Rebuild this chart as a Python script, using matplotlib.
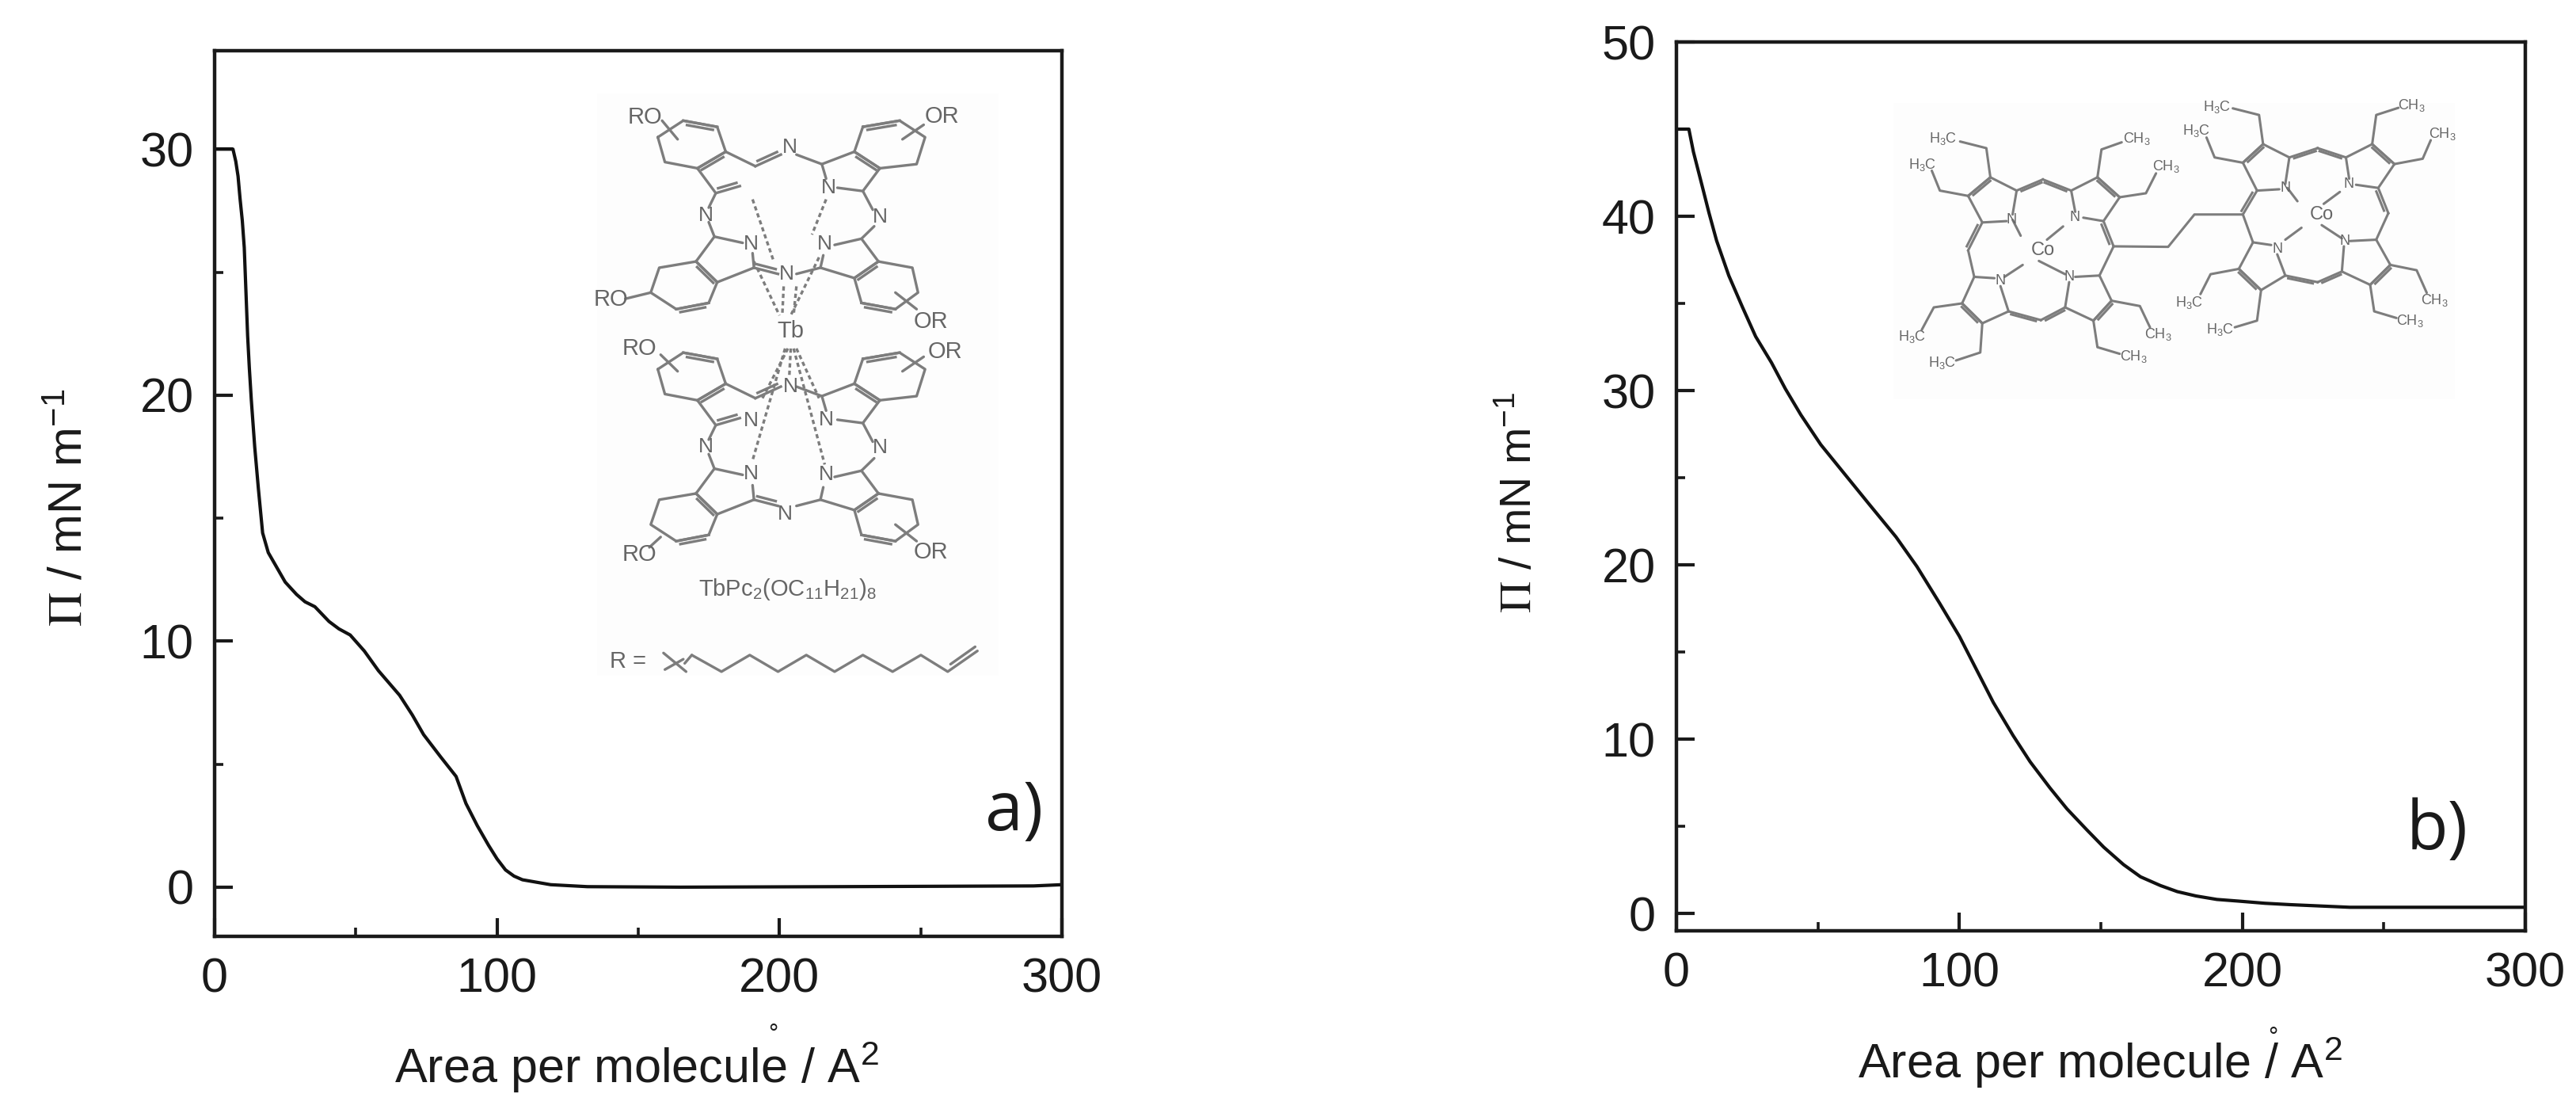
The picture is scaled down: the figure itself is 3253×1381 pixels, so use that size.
import matplotlib
matplotlib.use("Agg")
import matplotlib.pyplot as plt
from matplotlib.ticker import MultipleLocator

W, H = 3253, 1381

plt.rcParams['font.family'] = ['Liberation Sans', 'DejaVu Sans']
plt.rcParams['mathtext.fontset'] = 'stix'
plt.rcParams['mathtext.default'] = 'regular'

# isotherm a)
area_a = [0, 6.5, 7.5, 8.3, 9, 9.8, 10.5, 11.1, 11.7, 12.3, 13, 14.2, 15.5, 17, 19, 22, 25, 29, 32, 35.5,
          40.5, 44, 48, 53, 58, 65.5, 70, 74, 80, 85.5, 89, 93, 97, 100, 103, 106, 109, 119, 132, 165, 220, 290, 300]
pressure_a = [30, 30, 29.5, 28.9, 28, 27.1, 26, 24.2, 22.4, 21.1, 19.8, 17.9, 16.2, 14.4, 13.6, 13, 12.4, 11.9,
              11.6, 11.4, 10.8, 10.5, 10.25, 9.6, 8.8, 7.8, 7, 6.2, 5.3, 4.5, 3.4, 2.5, 1.7, 1.15, 0.7, 0.45, 0.3,
              0.1, 0.02, 0, 0.02, 0.05, 0.1]

# isotherm b)
area_b = [0, 4.4, 6, 9, 11.5, 14.2, 18.5, 23.3, 28, 33.6, 38.5, 44, 51, 59.5, 68, 77.6, 85, 93, 100, 106, 112,
          119, 125, 132, 138, 145, 151, 158, 164, 171, 177, 183.6, 191, 199, 208, 217, 238, 300]
pressure_b = [45, 45, 43.7, 41.8, 40.2, 38.6, 36.6, 34.8, 33.1, 31.6, 30.1, 28.6, 26.9, 25.2, 23.5, 21.6, 19.9,
              17.8, 15.9, 14, 12.1, 10.2, 8.7, 7.2, 6, 4.8, 3.8, 2.8, 2.1, 1.6, 1.25, 1.0, 0.8, 0.7, 0.58, 0.5,
              0.35, 0.35]

x_ticks = [0, 100, 200, 300]
y_ticks_a = [0, 10, 20, 30]
y_ticks_b = [0, 10, 20, 30, 40, 50]


def px_axes(x0, y0, x1, y1):
    # axes rectangle from picture pixels (y down)
    return [x0 / W, 1 - y1 / H, (x1 - x0) / W, (y1 - y0) / H]


def put(x, y, s, **kw):
    kw.setdefault('ha', 'center')
    kw.setdefault('va', 'center')
    return fig.text(x / W, 1 - y / H, s, **kw)


fig = plt.figure(figsize=(W / 100, H / 100), dpi=100)
INK = '#1a1a1a'


def isotherm(rect, xs, ys, yticks, ylim):
    ax = fig.add_axes(px_axes(*rect))
    ax.plot(xs, ys, color='#111111', lw=3.0, solid_joinstyle='round')
    ax.set_xlim(0, 300)
    ax.set_ylim(*ylim)
    ax.set_xticks(x_ticks)
    ax.set_yticks(yticks)
    ax.xaxis.set_minor_locator(MultipleLocator(50))
    ax.yaxis.set_minor_locator(MultipleLocator(5))
    ax.tick_params(which='major', direction='in', length=16.5, width=3, labelsize=44, pad=19, color=INK, labelcolor=INK)
    ax.tick_params(which='minor', direction='in', length=8, width=2.6, color=INK)
    for s in ax.spines.values():
        s.set_linewidth(3.2)
        s.set_color(INK)
    return ax


ax_a = isotherm((271, 64, 1341, 1182), area_a, pressure_a, y_ticks_a, (-2, 34))
ax_b = isotherm((2117, 53, 3189, 1175), area_b, pressure_b, y_ticks_b, (-1, 50))

xlabel = 'Area per molecule / A$^{2}$'
ylabel = r'$\mathrm{\Pi}$ / mN m$^{-1}$'
put(804, 1367, xlabel, fontsize=44, color=INK, va='baseline')
put(2652, 1361, xlabel, fontsize=44, color=INK, va='baseline')
put(104, 641, ylabel, fontsize=43, rotation=90, color=INK, va='baseline', rotation_mode='anchor')
put(1934, 634, ylabel, fontsize=40, rotation=90, color=INK, va='baseline', rotation_mode='anchor')
put(976, 1306, '°', fontsize=22, color=INK)
put(2870, 1310, '°', fontsize=22, color=INK)
put(1281, 1026, 'a)', fontsize=62, family='Open Sans', color=INK)
put(3078, 1050, 'b)', fontsize=62, family='Open Sans', color=INK)

GREY = '#7d7d7d'


def sketch_axes(x, y, w, h, ymax):
    ax = fig.add_axes(px_axes(x, y, x + w, y + h), zorder=5)
    ax.set_xlim(0, 1568)
    ax.set_ylim(ymax, 0)
    ax.axis('off')
    return ax


def lines(ax, paths, lw=2.4, **kw):
    for p in paths:
        ax.plot([q[0] for q in p], [q[1] for q in p], color=GREY, lw=lw, solid_capstyle='round', **kw)


def double(ax, segs, off=12, lw=2.4):
    # second stroke beside the bond
    for (a, b, c, d) in segs:
        dx, dy = c - a, d - b
        n = (dx ** 2 + dy ** 2) ** 0.5
        ox, oy = -dy / n * off, dx / n * off
        ax.plot([a, c], [b, d], color=GREY, lw=lw)
        ax.plot([a + ox + dx * .12, c + ox - dx * .12], [b + oy + dy * .12, d + oy - dy * .12], color=GREY, lw=lw)


# TbPc2 inset
ins_a = sketch_axes(720, 100, 560, 820, 1568)
ins_a.fill([95, 1515, 1515, 95], [35, 35, 1440, 1440], color='#fdfdfd', lw=0)


def pc_unit(ax, d):
    paths = [
        [(310, 140), (400, 100), (520, 115), (550, 175), (450, 215), (335, 200), (310, 140)],
        [(1035, 115), (1165, 100), (1255, 140), (1225, 205), (1095, 215), (1005, 175), (1035, 115)],
        [(550, 175), (655, 210)], [(800, 182), (890, 205), (1005, 175)],
        [(450, 215), (515, 275)], [(1095, 215), (1035, 270), (945, 262)],
        [(515, 275), (490, 310)], [(1035, 270), (1070, 315)],
        [(490, 345), (510, 380), (610, 395)], [(1075, 355), (1030, 385), (935, 400)],
        [(510, 380), (445, 440)], [(1030, 385), (1090, 440)],
        [(445, 440), (520, 490), (490, 540), (375, 555), (285, 515), (315, 455), (445, 440)],
        [(1090, 440), (1005, 480), (1030, 540), (1150, 555), (1230, 515), (1210, 455), (1090, 440)],
        [(520, 490), (650, 455)], [(1005, 480), (885, 455), (800, 470)],
        [(650, 455), (645, 420)], [(885, 455), (895, 425)],
        [(890, 205), (905, 240)],
    ]
    lines(ax, [[(x, y + d) for x, y in p] for p in paths])
    double(ax, [(655, 210 + d, 745, 182 + d), (650, 455 + d, 735, 470 + d), (515, 275 + d, 600, 258 + d)], off=-10)
    double(ax, [(400, 100 + d, 520, 115 + d), (1035, 115 + d, 1165, 100 + d), (375, 555 + d, 490, 540 + d),
                (1030, 540 + d, 1150, 555 + d), (450, 215 + d, 550, 175 + d), (1005, 175 + d, 1095, 215 + d),
                (445, 440 + d, 520, 490 + d), (1005, 480 + d, 1090, 440 + d)], off=9)


pc_unit(ins_a, 0)
pc_unit(ins_a, 560)
lines(ins_a, [[(325, 100), (380, 145)], [(1250, 110), (1175, 145)], [(195, 530), (285, 515)],
              [(1150, 515), (1225, 555)], [(320, 665), (380, 705)], [(1250, 670), (1175, 705)],
              [(320, 1105), (280, 1130)], [(1150, 1075), (1225, 1115)]])
lines(ins_a, [[(645, 290), (720, 440)], [(905, 290), (855, 375)], [(650, 440), (740, 570)],
              [(755, 500), (750, 570)], [(880, 430), (780, 570)], [(800, 500), (790, 570)],
              [(770, 650), (680, 770)], [(800, 650), (880, 770)], [(760, 650), (645, 920)],
              [(790, 650), (900, 930)], [(780, 650), (775, 715)]], lw=2.4, ls=(0, (1.6, 1.2)))
lines(ins_a, [[(430, 1390), (535, 1430), (635, 1390), (735, 1430), (835, 1390), (935, 1430),
               (1035, 1390), (1140, 1430), (1240, 1390), (1335, 1430), (1440, 1380)],
              [(1345, 1412), (1432, 1370)], [(330, 1385), (410, 1430)], [(335, 1425), (400, 1400)],
              [(405, 1410), (430, 1390)]])

for x, y, s in [(265, 92, 'RO'), (1315, 90, 'OR'), (145, 532, 'RO'), (1275, 585, 'OR'),
                (245, 650, 'RO'), (1325, 658, 'OR'), (245, 1148, 'RO'), (1275, 1142, 'OR')]:
    ins_a.text(x, y, s, fontsize=21, color='#666666', ha='center', va='center')
for x, y in [(778, 165), (480, 328), (1095, 332), (640, 397), (900, 397), (765, 470),
             (780, 742), (640, 825), (905, 822), (480, 888), (1095, 890), (640, 952),
             (905, 955), (760, 1050), (915, 262)]:
    ins_a.text(x, y, 'N', fontsize=19, color='#666666', ha='center', va='center')
ins_a.text(780, 608, 'Tb', fontsize=21, color='#666666', ha='center', va='center')
ins_a.text(768, 1232, 'TbPc$_{2}$(OC$_{11}$H$_{21}$)$_{8}$', fontsize=21, color='#666666', ha='center', va='center')
ins_a.text(205, 1405, 'R =', fontsize=21, color='#666666', ha='center', va='center')

# cobalt porphyrin dimer inset
ins_b = sketch_axes(2340, 120, 800, 400, 1194)
ins_b.fill([100, 1490, 1490, 100], [30, 30, 1145, 1145], color='#fdfdfd', lw=0)
lines(ins_b, [
    [(285, 380), (340, 310), (405, 360), (395, 450)], [(380, 475), (320, 480), (285, 380)],
    [(340, 310), (330, 200), (265, 175)], [(285, 380), (215, 360), (195, 285)],
    [(540, 360), (605, 310), (660, 385), (620, 475), (570, 462)], [(540, 360), (550, 440)],
    [(605, 310), (615, 205), (665, 178)], [(660, 385), (725, 370), (750, 295)],
    [(645, 570), (610, 680), (550, 685)], [(645, 570), (780, 572), (845, 450), (965, 450)],
    [(535, 705), (525, 800), (595, 850), (640, 775), (610, 680)],
    [(640, 775), (710, 795), (735, 875)], [(595, 850), (605, 950), (660, 975)],
    [(385, 815), (365, 720)], [(350, 690), (300, 685), (270, 785), (320, 860), (385, 815)],
    [(270, 785), (200, 800), (170, 885)], [(320, 860), (315, 970), (255, 1000)],
    [(285, 585), (300, 685)], [(395, 470), (415, 530)], [(520, 495), (480, 545)],
    [(420, 640), (375, 685)], [(460, 625), (525, 675)],
    [(965, 255), (1015, 185), (1080, 235), (1070, 335)], [(1055, 355), (1000, 360), (965, 255)],
    [(1015, 185), (1005, 75), (940, 50)], [(965, 255), (895, 235), (875, 160)],
    [(1220, 235), (1285, 185), (1340, 260), (1300, 350), (1245, 338)], [(1220, 235), (1228, 315)],
    [(1285, 185), (1295, 75), (1350, 48)], [(1340, 260), (1410, 240), (1430, 170)],
    [(1325, 445), (1295, 545), (1230, 550)], [(1215, 570), (1210, 665), (1280, 715), (1330, 640), (1295, 545)],
    [(1330, 640), (1395, 660), (1420, 745)], [(1280, 715), (1290, 815), (1345, 840)],
    [(1070, 680), (1050, 600)], [(1035, 565), (990, 555), (955, 655), (1010, 735), (1070, 680)],
    [(955, 655), (885, 675), (860, 750)], [(1010, 735), (1000, 850), (945, 875)],
    [(965, 450), (990, 555)], [(1075, 350), (1100, 400)], [(1205, 365), (1165, 410)],
    [(1110, 500), (1070, 545)], [(1160, 490), (1210, 540)],
], lw=2.2)
double(ins_b, [(405, 360, 470, 318), (470, 318, 540, 360), (385, 815, 465, 848), (465, 848, 525, 800),
               (320, 480, 285, 585), (620, 475, 645, 570), (1080, 235, 1150, 200), (1150, 200, 1220, 235),
               (1070, 680, 1150, 705), (1150, 705, 1210, 665), (1000, 360, 965, 450), (1300, 350, 1325, 445),
               (285, 380, 340, 310), (605, 310, 660, 385), (270, 785, 320, 860), (595, 850, 640, 775),
               (965, 255, 1015, 185), (1285, 185, 1340, 260), (955, 655, 1010, 735), (1280, 715, 1330, 640)],
       off=8, lw=2.2)
for x, y in [(222, 165), (172, 262), (145, 910), (220, 1010), (900, 45), (850, 135), (832, 782), (908, 885)]:
    ins_b.text(x, y, 'H$_{3}$C', fontsize=13, color='#666666', ha='center', va='center')
for x, y in [(703, 165), (775, 270), (755, 902), (695, 985), (1382, 38), (1458, 145), (1440, 772), (1378, 850)]:
    ins_b.text(x, y, 'CH$_{3}$', fontsize=13, color='#666666', ha='center', va='center')
for x, y in [(392, 470), (548, 460), (535, 685), (365, 700), (1070, 350), (1228, 335), (1218, 550), (1050, 580)]:
    ins_b.text(x, y, 'N', fontsize=13, color='#666666', ha='center', va='center')
ins_b.text(470, 585, 'Co', fontsize=17, color='#666666', ha='center', va='center')
ins_b.text(1160, 450, 'Co', fontsize=17, color='#666666', ha='center', va='center')

fig.savefig('out.png', dpi=100)
